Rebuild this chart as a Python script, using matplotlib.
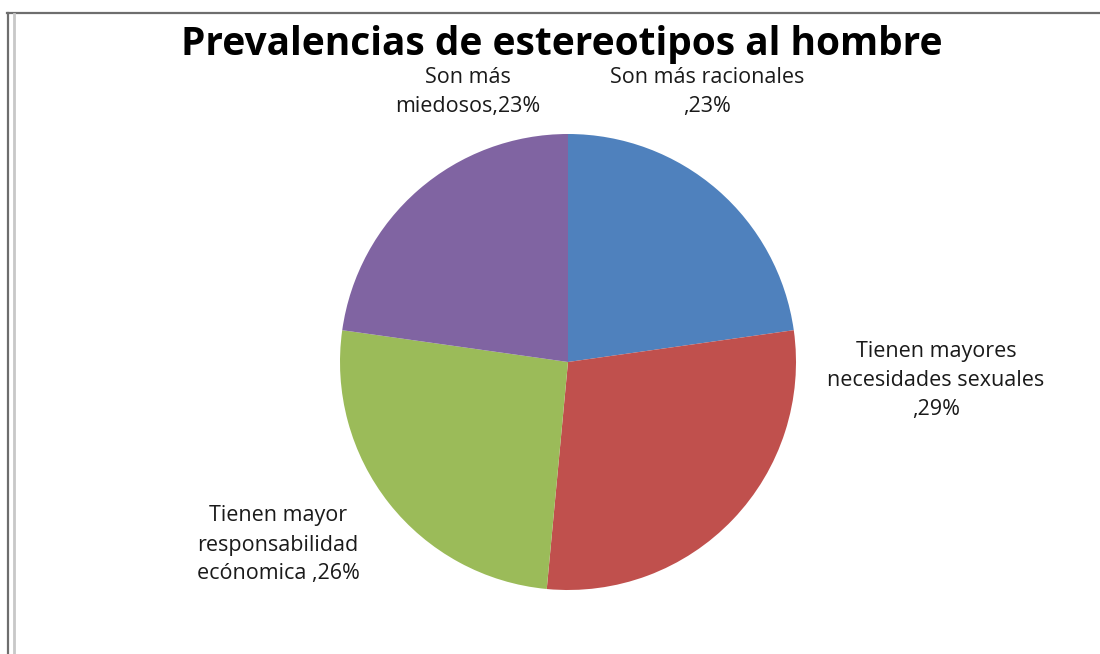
import matplotlib.pyplot as plt
from matplotlib.lines import Line2D

# data
labels = ["Son más racionales\n,23%",
          "Tienen mayores\nnecesidades sexuales\n,29%",
          "Tienen mayor\nresponsabilidad\necónomica ,26%",
          "Son más\nmiedosos,23%"]
values = [23, 29, 26, 23]
colors = ["#4F81BD", "#C0504D", "#9BBB59", "#8064A2"]
title = "Prevalencias de estereotipos al hombre"

W, H = 1100, 654
fig = plt.figure(figsize=(11, 6.54), dpi=100)
ax = fig.add_axes([0, 0, 1, 1])

# pie centred like the reference (pixel coords, y up)
ax.pie(values, colors=colors, startangle=90, counterclock=False,
       center=(568, H - 362), radius=228, frame=True,
       wedgeprops=dict(linewidth=0))
ax.set_xlim(0, W)
ax.set_ylim(0, H)
ax.set_aspect("equal")
ax.axis("off")

# label positions (text centres)
label_pos = [(707, H - 92), (936, H - 381), (278, H - 545), (468, H - 92)]
for lab, (x, y) in zip(labels, label_pos):
    ax.text(x, y, lab, ha="center", va="center", fontsize=15.5,
            family="Open Sans", color="#1a1a1a", linespacing=1.5)

ax.text(562, H - 44, title, ha="center", va="center", fontsize=28,
        family="Open Sans", weight="bold", color="black")

# chart frame lines
fig.add_artist(Line2D([7 / W, 1], [1 - 12.5 / H, 1 - 12.5 / H],
                      color="#6e6e6e", lw=1.6, transform=fig.transFigure))
fig.add_artist(Line2D([7.5 / W, 7.5 / W], [0, 1 - 12.5 / H],
                      color="#6e6e6e", lw=1.6, transform=fig.transFigure))
fig.add_artist(Line2D([14 / W, 14 / W], [0, 1 - 14 / H],
                      color="#c8c8c8", lw=2, transform=fig.transFigure))

fig.savefig("out.png", dpi=100)
